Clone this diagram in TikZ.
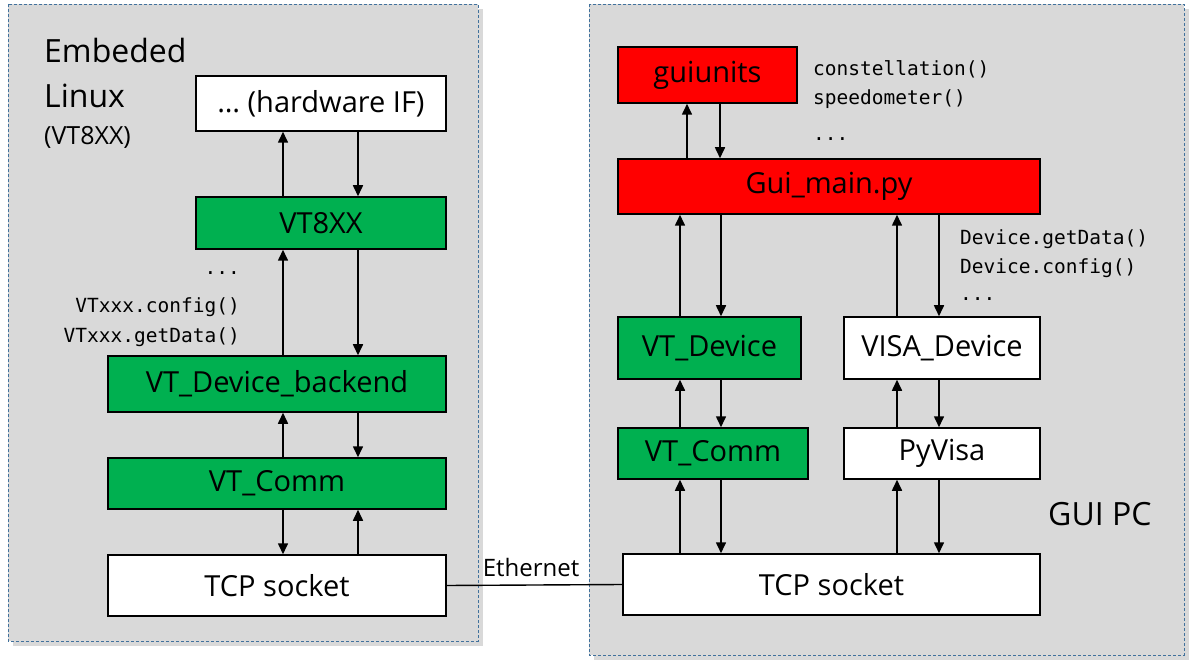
\documentclass[tikz,border=0pt]{standalone}
\usepackage{fontspec}
\setmainfont{Open Sans}
\newfontfamily\codefont{DejaVu Sans Mono}
\usetikzlibrary{positioning}
\usetikzlibrary{arrows.meta}
\usetikzlibrary{shadows}
\definecolor{panelC}{HTML}{D9D9D9}
\definecolor{frameC}{HTML}{41719C}
\definecolor{vtC}{HTML}{00B050}
\definecolor{guiC}{HTML}{FF0000}
\tikzstyle{panel}=[draw=frameC, fill=panelC, line width=0.8pt, dash pattern=on 3pt off 2pt, drop shadow={opacity=0.3, shadow xshift=5pt, shadow yshift=-5pt}]
\tikzstyle{blk}=[draw, line width=1.5pt, shape=rectangle, inner sep=0pt, font=\fontsize{29}{34}\selectfont]
\tikzstyle{gbk}=[blk, fill=vtC]
\tikzstyle{rbk}=[blk, fill=guiC]
\tikzstyle{wbk}=[blk, fill=white]
\tikzstyle{lbl}=[inner sep=0pt]
\tikzstyle{code}=[inner sep=0pt, font=\codefont\fontsize{19.5}{30}\selectfont]
\tikzstyle{marrow}=[line width=1.6pt, -{Triangle[length=11pt,width=10pt]}, color=black]
\def\gbk{\node[style=gbk]}
\def\rbk{\node[style=rbk]}
\def\wbk{\node[style=wbk]}
\def\lbl{\node[style=lbl]}
\def\code{\node[style=code]}
\def\marrow{\draw[style=marrow]}

\begin{document}
\begin{tikzpicture}[x=1pt, y=-1pt]
      \useasboundingbox (0,0) rectangle (1189,668);
      % panels
      \draw[panel] (8,4) rectangle (478,641);
      \draw[panel] (589,4) rectangle (1184,655);

      % lanes
      \coordinate (la) at (283,0);
      \coordinate (lb) at (358,0);
      \coordinate (ga) at (687,0);
      \coordinate (gb) at (720,0);
      \coordinate (ra) at (680,0);
      \coordinate (rb) at (721,0);
      \coordinate (rc) at (897,0);
      \coordinate (rd) at (939,0);

      % embedded linux
      \lbl (tEmb) [anchor=base west] at (44,63) {\fontsize{32}{36}\selectfont Embeded};
      \lbl (tLin) [anchor=base west] at (44,108) {\fontsize{32}{36}\selectfont Linux};
      \lbl (tVT)  [anchor=base west] at (44,145) {\fontsize{25}{29}\selectfont (VT8XX)};

      \wbk (hwif)    at (321,103.5) [minimum width=250pt, minimum height=55pt] {\dots\ (hardware IF)};
      \gbk (vt8xx)   at (321,223)   [minimum width=250pt, minimum height=52pt] {VT8XX};
      \gbk (backend) at (277,384)   [minimum width=338pt, minimum height=56pt] {VT\_Device\_backend};
      \gbk (lcomm)   at (277,483.5) [minimum width=338pt, minimum height=51pt] {VT\_Comm};
      \wbk (ltcp)    at (277,585.5) [minimum width=338pt, minimum height=61pt] {TCP socket};

      \code (lDots) [anchor=base east] at (240,275) {...};
      \code (lCfg)  [anchor=base east] at (240,313) {VTxxx.config()};
      \code (lGet)  [anchor=base east] at (240,343) {VTxxx.getData()};

      \marrow (vt8xx.north -| la) -- (hwif.south -| la);
      \marrow (hwif.south -| lb) -- (vt8xx.north -| lb);
      \marrow (backend.north -| la) -- (vt8xx.south -| la);
      \marrow (vt8xx.south -| lb) -- (backend.north -| lb);
      \marrow (lcomm.north -| la) -- (backend.south -| la);
      \marrow (backend.south -| lb) -- (lcomm.north -| lb);
      \marrow (lcomm.south -| la) -- (ltcp.north -| la);
      \marrow (ltcp.north -| lb) -- (lcomm.south -| lb);

      % gui pc
      \rbk (guiunits) at (707.5,75)   [minimum width=179pt, minimum height=56pt] {guiunits};
      \rbk (guimain)  at (829,186.5)  [minimum width=422pt, minimum height=55pt] {Gui\_main.py};
      \gbk (vtdev)    at (709.5,348)  [minimum width=183pt, minimum height=62pt] {VT\_Device};
      \wbk (visadev)  at (942,348)    [minimum width=196pt, minimum height=62pt] {VISA\_Device};
      \gbk (rcomm)    at (713,453.5)  [minimum width=190pt, minimum height=51pt] {VT\_Comm};
      \wbk (pyvisa)   at (942,453.5)  [minimum width=196pt, minimum height=51pt] {PyVisa};
      \wbk (rtcp)     at (831.5,584.5) [minimum width=417pt, minimum height=61pt] {TCP socket};

      \code (gCon)  [anchor=base west] at (813,76)  {constellation()};
      \code (gSpd)  [anchor=base west] at (813,105) {speedometer()};
      \code (gDots) [anchor=base west] at (813,141) {...};
      \code (dGet)  [anchor=base west] at (960,245) {Device.getData()};
      \code (dCfg)  [anchor=base west] at (960,274) {Device.config()};
      \code (dDots) [anchor=base west] at (960,301) {...};

      \lbl (tGui) [anchor=base west] at (1048,525) {\fontsize{32}{36}\selectfont GUI PC};

      \marrow (guimain.north -| ga) -- (guiunits.south -| ga);
      \marrow (guiunits.south -| gb) -- (guimain.north -| gb);
      \marrow (vtdev.north -| ra) -- (guimain.south -| ra);
      \marrow (guimain.south -| rb) -- (vtdev.north -| rb);
      \marrow (visadev.north -| rc) -- (guimain.south -| rc);
      \marrow (guimain.south -| rd) -- (visadev.north -| rd);
      \marrow (rcomm.north -| ra) -- (vtdev.south -| ra);
      \marrow (vtdev.south -| rb) -- (rcomm.north -| rb);
      \marrow (pyvisa.north -| rc) -- (visadev.south -| rc);
      \marrow (visadev.south -| rd) -- (pyvisa.north -| rd);
      \marrow (rtcp.north -| ra) -- (rcomm.south -| ra);
      \marrow (rcomm.south -| rb) -- (rtcp.north -| rb);
      \marrow (rtcp.north -| rc) -- (pyvisa.south -| rc);
      \marrow (pyvisa.south -| rd) -- (rtcp.north -| rd);

      % link
      \draw[line width=1.4pt] (ltcp.east) -- (rtcp.west);
      \lbl (tEth) [anchor=base] at (531,576) {\fontsize{24}{28}\selectfont Ethernet};
\end{tikzpicture}
\end{document}
